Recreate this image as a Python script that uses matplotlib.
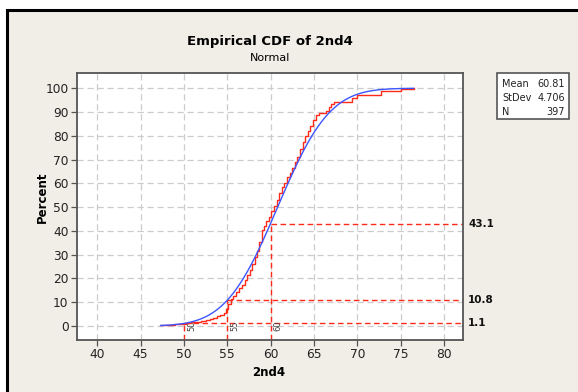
import math
import numpy as np
import matplotlib.pyplot as plt
from matplotlib.patches import Rectangle

# fitted normal (shown in the summary box)
MEAN = 60.81
STDEV = 4.706
N = 397

# empirical CDF breakpoints (value, percent after the step)
ecdf_x = [47.3, 48.3, 49.0, 49.6, 50.2, 50.8, 51.5, 52.0, 52.5, 53.0,
          53.4, 53.8, 54.2, 54.6, 54.9, 55.1, 55.4, 55.7, 56.0, 56.4,
          56.7, 57.0, 57.3, 57.6, 57.9, 58.2, 58.4, 58.7, 59.0, 59.2,
          59.5, 59.8, 60.1, 60.4, 60.7, 61.0, 61.3, 61.6, 61.9, 62.2,
          62.5, 62.8, 63.1, 63.4, 63.7, 64.0, 64.3, 64.6, 64.9, 65.2,
          65.6, 66.4, 66.7, 67.0, 67.3, 69.4, 70.0, 72.7, 75.0, 76.5]
ecdf_pct = [0.25, 0.5, 0.8, 1.0, 1.3, 1.5, 1.8, 2.0, 2.5, 3.0,
            3.5, 4.0, 4.5, 5.5, 7.3, 9.3, 11.3, 12.6, 14.1, 15.9,
            17.4, 19.4, 21.4, 23.4, 26.2, 29.0, 31.5, 35.5, 40.3, 42.0,
            44.0, 46.0, 48.2, 50.3, 53.0, 56.0, 58.5, 60.3, 62.5, 64.5,
            66.5, 69.0, 71.0, 74.5, 77.5, 79.8, 82.0, 84.3, 86.8, 88.9,
            89.6, 90.5, 92.3, 93.5, 94.4, 96.0, 97.3, 98.9, 99.5, 100.0]

# reference lines
ref_x = [50, 55, 60]
ref_pct = [1.1, 10.8, 43.1]

x_ticks = [40, 45, 50, 55, 60, 65, 70, 75, 80]
y_ticks = [0, 10, 20, 30, 40, 50, 60, 70, 80, 90, 100]

RED = '#ff2a1a'
BLUE = '#3c55ff'
BG = '#f0eee6'
FRAME = '#555555'

def norm_cdf(x):
    return 50.0 * (1.0 + math.erf((x - MEAN) / (STDEV * math.sqrt(2.0))))

fig = plt.figure(figsize=(5.78, 3.92), dpi=100)
fig.patch.set_facecolor('white')
W, H = 578.0, 392.0
fig.patches.append(Rectangle((7 / W, -0.05), 1.2, 1 - 10 / H + 0.05,
                             transform=fig.transFigure, facecolor=BG,
                             edgecolor='black', linewidth=2.2, zorder=-5))

ax = fig.add_axes([77 / W, 1 - 340 / H, (462.5 - 77) / W, (340 - 73) / H])
ax.set_zorder(2)
ax.set_facecolor('white')
ax.set_xlim(37.66, 82.14)
ax.set_ylim(-5.89, 106.4)
ax.set_xticks(x_ticks)
ax.set_yticks(y_ticks)
ax.grid(True, color='#cccccc', linestyle=(0, (5, 3)), linewidth=0.9)
ax.set_axisbelow(True)
for s in ax.spines.values():
    s.set_color(FRAME)
    s.set_linewidth(1.3)
ax.tick_params(direction='out', length=4, width=0.9, color=FRAME,
               labelsize=8.8, labelcolor='#222222', pad=2)

# reference lines
for rx, rp in zip(ref_x, ref_pct):
    ax.plot([rx, rx], [-5.89, rp], color=RED, linestyle=(0, (4, 2.5)),
            linewidth=1.0, zorder=2)
    ax.plot([rx, 82.14], [rp, rp], color=RED, linestyle=(0, (4, 2.5)),
            linewidth=1.0, zorder=2)
    ax.text(rx + 0.35, 0, str(rx), rotation=90, fontsize=6, color='#444444',
            ha='left', va='center', zorder=3)
    ax.text(1.015, rp, '%.1f' % rp, transform=ax.get_yaxis_transform(),
            fontsize=7.5, fontweight='bold', color='#111111',
            ha='left', va='center', clip_on=False)

# empirical CDF
ax.step(ecdf_x, ecdf_pct, where='post', color=RED, linewidth=1.0, zorder=4)

# fitted normal CDF
xs = np.linspace(ecdf_x[0], ecdf_x[-1], 300)
ax.plot(xs, [norm_cdf(v) for v in xs], color=BLUE, linewidth=1.0, zorder=5)

fig.text(270 / W, 1 - 42 / H, 'Empirical CDF of 2nd4', fontsize=9.5,
         fontweight='bold', ha='center', va='center')
fig.text(270 / W, 1 - 58 / H, 'Normal', fontsize=8, ha='center', va='center')
fig.text(42 / W, 1 - 197 / H, 'Percent', fontsize=8.5, fontweight='bold',
         rotation=90, ha='center', va='center')
fig.text(269 / W, 1 - 373 / H, '2nd4', fontsize=8.5, fontweight='bold',
         ha='center', va='center')

# summary box
fig.patches.append(Rectangle((497 / W, 1 - 119 / H), 72 / W, 46 / H,
                             transform=fig.transFigure, facecolor='white',
                             edgecolor=FRAME, linewidth=1.2, zorder=1))
rows = [('Mean', '%.2f' % MEAN), ('StDev', '%.3f' % STDEV), ('N', str(N))]
for i, (k, v) in enumerate(rows):
    yy = 1 - (84.3 + i * 13.7) / H
    fig.text(502 / W, yy, k, fontsize=7, ha='left', va='center', color='#222222')
    fig.text(565 / W, yy, v, fontsize=7, ha='right', va='center', color='#222222')

fig.savefig('out.png', dpi=100)
